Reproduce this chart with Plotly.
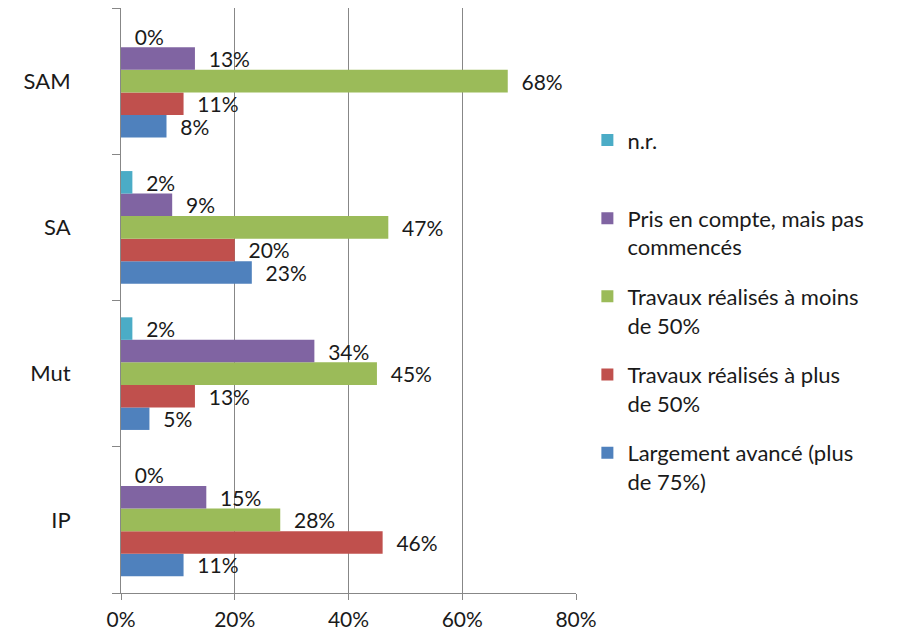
import plotly.graph_objects as go

categories = ["IP", "Mut", "SA", "SAM"]
series_names = [
    "Largement avancé (plus<br>de 75%)",
    "Travaux réalisés à plus<br>de 50%",
    "Travaux réalisés à moins<br>de 50%",
    "Pris en compte, mais pas<br>commencés",
    "n.r.<br>\u00a0",
]
largement = [11, 5, 23, 8]
plus50 = [46, 13, 20, 11]
moins50 = [28, 45, 47, 68]
pris = [15, 34, 9, 13]
nr = [0, 2, 2, 0]
colors = ["#4F81BD", "#C0504D", "#9BBB59", "#8064A2", "#4BACC6"]
x_ticks = [0, 20, 40, 60, 80]

FONT = "Lato, Carlito, 'Open Sans', sans-serif"
TXT = "#1a1a1a"

fig = go.Figure()
all_vals = [largement, plus50, moins50, pris, nr]
for i, (name, vals) in enumerate(zip(series_names, all_vals)):
    fig.add_trace(go.Bar(
        y=categories,
        x=vals,
        orientation="h",
        name=name,
        legendgroup=f"g{i}",
        legendrank=100 - i,
        marker=dict(color=colors[i], line=dict(width=0)),
        text=["\u00a0\u00a0" + f"{v}%" for v in vals],
        textposition="outside",
        constraintext="none",
        cliponaxis=False,
        textfont=dict(family=FONT, size=21, color=TXT),
        hoverinfo="skip",
    ))

fig.update_layout(
    width=902,
    height=629,
    barmode="group",
    bargap=0.23,
    bargroupgap=0,
    plot_bgcolor="white",
    paper_bgcolor="white",
    margin=dict(l=113, r=334, t=0, b=44),
    font=dict(family=FONT, size=22, color=TXT),
    legend=dict(
        x=1.025, xanchor="left",
        y=0.81, yanchor="top",
        traceorder="grouped",
        tracegroupgap=18,
        valign="top",
        font=dict(family=FONT, size=22, color=TXT),
        bgcolor="rgba(0,0,0,0)",
    ),
    xaxis=dict(
        range=[0, 80],
        tickvals=x_ticks,
        ticktext=[f"{t}%" for t in x_ticks],
        tickfont=dict(family=FONT, size=21, color=TXT),
        showgrid=True,
        gridcolor="#878787",
        gridwidth=1,
        showline=True,
        linecolor="#878787",
        linewidth=1,
        ticks="outside",
        ticklen=6,
        tickcolor="#878787",
        ticklabelstandoff=2,
        zeroline=False,
        automargin=False,
        fixedrange=True,
    ),
    yaxis=dict(
        categoryorder="array",
        categoryarray=categories,
        showline=True,
        linecolor="#878787",
        linewidth=1,
        ticks="outside",
        tickson="boundaries",
        ticklen=8,
        tickcolor="#878787",
        ticklabelstandoff=45,
        showgrid=False,
        automargin=False,
        fixedrange=True,
    ),
)

fig.write_html("out.html")
